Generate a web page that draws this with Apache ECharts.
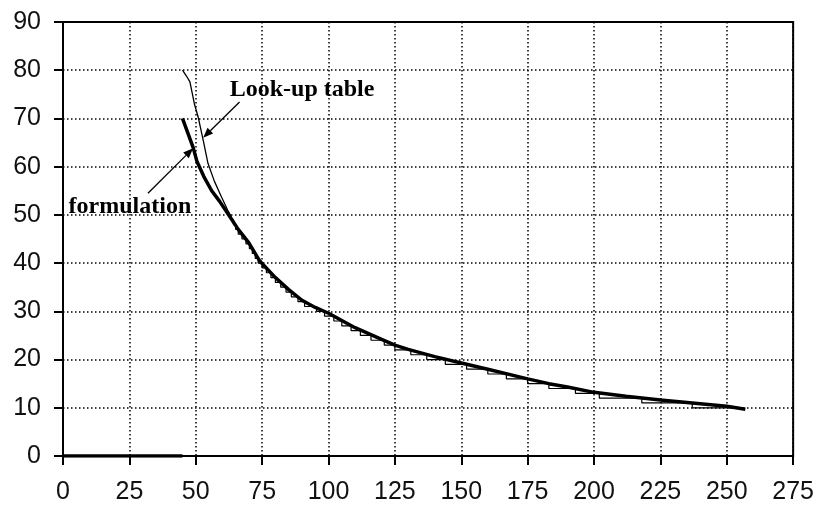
<!DOCTYPE html>
<html><head><meta charset="utf-8">
<script src="https://cdn.jsdelivr.net/npm/echarts@6/dist/echarts.min.js"></script>
<style>html,body{margin:0;padding:0;background:#fff}#c{width:817px;height:509px}</style>
</head><body><div id="c"></div>
<script>
// Axis ticks
const xTickLabels = [0, 25, 50, 75, 100, 125, 150, 175, 200, 225, 250, 275];
const yTickLabels = [0, 10, 20, 30, 40, 50, 60, 70, 80, 90];

// "formulation" curve (thick)
const formX = [45, 47, 49, 50.5, 53, 56, 59, 63, 66, 70, 74, 80, 85, 90, 95, 100, 110, 120, 125, 130, 140, 150, 160, 175, 183, 190, 200, 212, 225, 237, 250, 257];
const formY = [70, 67, 64, 61, 58, 55, 52.8, 49.5, 47, 44.2, 40.5, 37, 34.5, 32.3, 30.8, 29.6, 26.6, 24.2, 23, 22.1, 20.6, 19.3, 18, 16, 15, 14.3, 13.2, 12.4, 11.6, 11, 10.3, 9.7];

// "formulation" zero segment below threshold
const baseX = [0, 45];
const baseY = [0, 0];

// "Look-up table" curve: steep upper part
const lookUpX = [45, 46.5, 47.8, 49.5, 50.9, 52.8, 54.6, 57, 59.7, 62, 63.4];
const lookUpY = [80, 78.8, 77.6, 73, 70.3, 65.5, 60.7, 57, 53.7, 51, 49.6];
// "Look-up table" curve: stepped lower part
const lookX = [63.4, 64.2, 65, 66, 67.4, 68.9, 70.2, 71.3, 72.4, 73.5, 75, 76.6, 78.3, 80, 82, 84, 86, 88.5, 91, 95.5, 98.5, 102, 105, 108.5, 112, 116, 121, 125, 131, 137, 144, 152, 160, 167, 175, 183, 193, 202, 218, 237, 256];
const lookY = [49, 48, 47, 46, 45, 44, 43, 42, 41, 40, 39, 38, 37, 36, 35, 34, 33, 32, 31, 30, 29, 28, 27, 26, 25, 24, 23, 22, 21, 20, 19, 18, 17, 16, 15, 14, 13, 12, 11, 10, 10];

// Annotations
const labelLookup = 'Look-up table';
const labelForm = 'formulation';
const lookupTextAt = [62.8, 76.0];
const formTextAt = [2.1, 51.7];
const lookupArrow = [[66.5, 73.4], [52.8, 66.0]];
const formArrow = [[32.0, 54.5], [49.0, 63.8]];

const zip = (xs, ys) => xs.map((x, i) => [x, ys[i]]);

const chart = echarts.init(document.getElementById('c'), null, {renderer: 'canvas'});
const axisFont = {fontFamily: 'Liberation Sans', fontSize: 25, color: '#111'};
const dotted = {color: '#000', width: 1.5, type: [1.5, 2.5]};

const option = {
  animation: false,
  backgroundColor: '#fff',
  grid: {left: 63, right: 21, top: 22, bottom: 53, show: true, borderColor: '#000', borderWidth: 2, backgroundColor: 'transparent'},
  xAxis: {
    type: 'value', min: xTickLabels[0], max: xTickLabels[xTickLabels.length - 1], interval: xTickLabels[1] - xTickLabels[0],
    axisLine: {show: true, onZero: false, lineStyle: {color: '#000', width: 2}},
    axisTick: {show: true, inside: false, length: 9, lineStyle: {color: '#000', width: 2}},
    axisLabel: Object.assign({margin: 24}, axisFont),
    splitLine: {show: true, lineStyle: dotted}
  },
  yAxis: {
    type: 'value', min: yTickLabels[0], max: yTickLabels[yTickLabels.length - 1], interval: yTickLabels[1] - yTickLabels[0],
    axisLine: {show: true, onZero: false, lineStyle: {color: '#000', width: 2}},
    axisTick: {show: true, inside: false, length: 9, lineStyle: {color: '#000', width: 2}},
    axisLabel: Object.assign({margin: 22}, axisFont),
    splitLine: {show: true, lineStyle: dotted}
  },
  series: [
    {name: 'formulation-base', type: 'line', data: zip(baseX, baseY), showSymbol: false, symbol: 'none',
     lineStyle: {color: '#000', width: 3.5}, z: 3},
    {name: 'formulation', type: 'line', data: zip(formX, formY), showSymbol: false, symbol: 'none',
     lineStyle: {color: '#000', width: 3.5}, z: 3},
    {name: 'Look-up table (upper)', type: 'line', data: zip(lookUpX, lookUpY), showSymbol: false, symbol: 'none',
     lineStyle: {color: '#000', width: 1.3}, z: 4},
    {name: 'Look-up table', type: 'line', step: 'end', data: zip(lookX, lookY), showSymbol: false, symbol: 'none',
     lineStyle: {color: '#000', width: 1.2}, z: 4}
  ]
};
chart.setOption(option);

function px(p) { return chart.convertToPixel({gridIndex: 0}, p); }
function arrow(a, b) {
  const p1 = px(a), p2 = px(b);
  const dx = p2[0] - p1[0], dy = p2[1] - p1[1];
  const L = Math.hypot(dx, dy), ux = dx / L, uy = dy / L;
  const hl = 10, hw = 4;
  const bx = p2[0] - ux * hl, by = p2[1] - uy * hl;
  return [
    {type: 'line', shape: {x1: p1[0], y1: p1[1], x2: bx, y2: by}, style: {stroke: '#000', lineWidth: 1.3}, z: 10},
    {type: 'polygon', shape: {points: [[p2[0], p2[1]], [bx - uy * hw, by + ux * hw], [bx + uy * hw, by - ux * hw]]}, style: {fill: '#000'}, z: 10}
  ];
}
const lt = px(lookupTextAt), ft = px(formTextAt);
const textStyle = {font: 'bold 24px "Liberation Serif"', fill: '#000', textVerticalAlign: 'middle', textAlign: 'left'};
chart.setOption({
  graphic: [
    {type: 'text', x: lt[0], y: lt[1], style: Object.assign({text: labelLookup}, textStyle), z: 11},
    {type: 'text', x: ft[0], y: ft[1], style: Object.assign({text: labelForm}, textStyle), z: 11}
  ].concat(arrow(lookupArrow[0], lookupArrow[1]), arrow(formArrow[0], formArrow[1]))
});
</script>
</body></html>
